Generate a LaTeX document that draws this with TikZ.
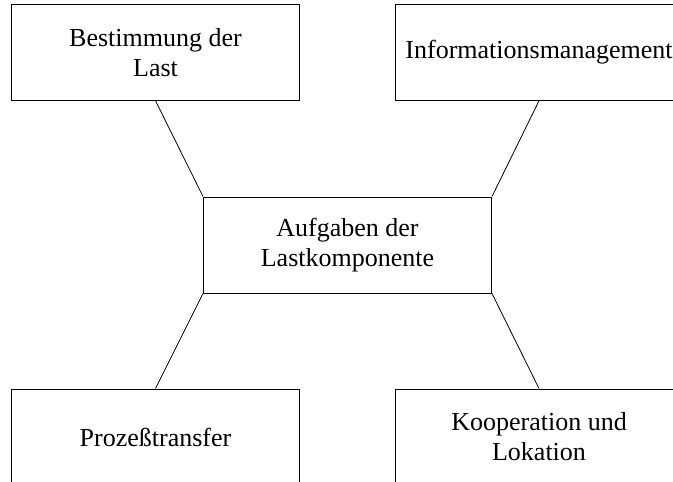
\documentclass[tikz,border=0pt]{standalone}
\usepackage{fontspec}
\setmainfont{Liberation Serif}
\begin{document}
\begin{tikzpicture}[x=0.75pt,y=-0.75pt,
  task/.style={draw=black, line width=0.75pt, rectangle, inner sep=0pt,
    minimum width=216pt, minimum height=72pt, align=center,
    font=\fontsize{19.5}{22.5}\selectfont},
  link/.style={draw=black, line width=0.6pt}]
  \useasboundingbox (0,0) rectangle (673,481);
  \clip (0,0) rectangle (673,481);
  % the five task boxes
  \node[task] (last)   at (155.5,52.25) {Bestimmung der\\Last};
  \node[task] (info)   at (539,52.25)   {Informationsmanagement};
  \node[task] (center) at (347.5,245)   {Aufgaben der\\Lastkomponente};
  \node[task] (proz)   at (155.5,437)   {\raisebox{-4.5pt}{Prozeßtransfer}};
  \node[task] (koop)   at (539,437)     {Kooperation und\\Lokation};
  % connectors to the corners of the central box
  \draw[link] (last.south) -- (center.north west);
  \draw[link] (info.south) -- (center.north east);
  \draw[link] (proz.north) -- (center.south west);
  \draw[link] (koop.north) -- (center.south east);
\end{tikzpicture}
\end{document}
